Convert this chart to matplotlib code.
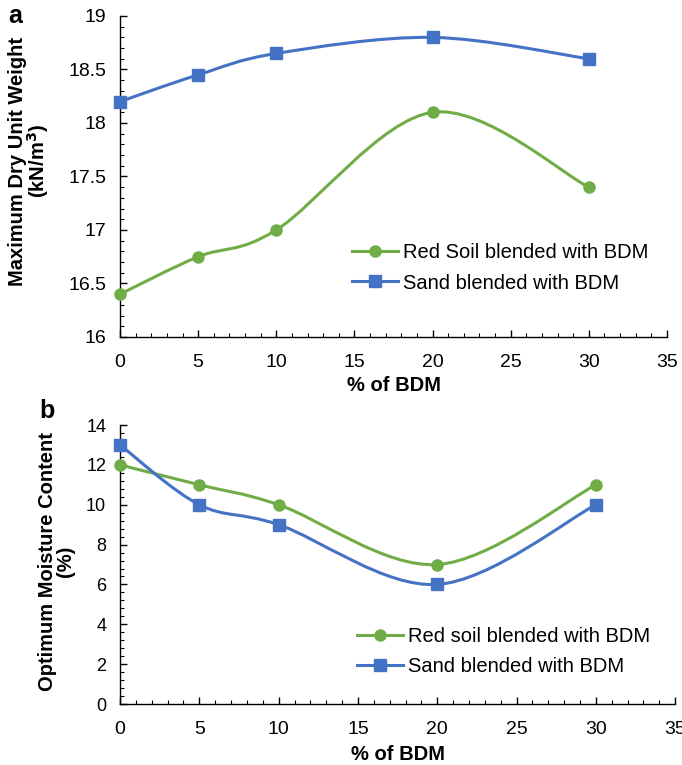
import numpy as np
import matplotlib.pyplot as plt
from matplotlib.path import Path
from matplotlib.patches import PathPatch
from matplotlib.ticker import MultipleLocator

plt.rcParams['font.family'] = ['Liberation Sans', 'DejaVu Sans']

# data
bdm = [0, 5, 10, 20, 30]
mdd_red = [16.4, 16.75, 17.0, 18.1, 17.4]
mdd_sand = [18.2, 18.45, 18.65, 18.8, 18.6]
omc_red = [12, 11, 10, 7, 11]
omc_sand = [13, 10, 9, 6, 10]

GREEN = '#70AD47'
BLUE = '#4472C4'


def smooth_path(x, y):
    # Excel-like smoothed line: cubic bezier through points (catmull-rom)
    p = np.column_stack([x, y]).astype(float)
    pts = np.vstack([p[0], p, p[-1]])
    verts = [p[0]]
    codes = [Path.MOVETO]
    for i in range(1, len(pts) - 2):
        p0, p1, p2, p3 = pts[i - 1], pts[i], pts[i + 1], pts[i + 2]
        verts += [p1 + (p2 - p0) / 6, p2 - (p3 - p1) / 6, p2]
        codes += [Path.CURVE4] * 3
    return Path(verts, codes)


def draw_series(ax, x, y, color, marker, ms, label):
    ax.add_patch(PathPatch(smooth_path(x, y), facecolor='none',
                           edgecolor=color, lw=2.2, zorder=2))
    ax.plot(x, y, ls='none', marker=marker, ms=ms, color=color, zorder=3,
            clip_on=False)
    ax.plot([], [], color=color, lw=2.2, marker=marker, ms=ms, label=label)


def style_axes(ax, ylabsize):
    for s in ['top', 'right']:
        ax.spines[s].set_visible(False)
    for s in ['left', 'bottom']:
        ax.spines[s].set_color('black')
        ax.spines[s].set_linewidth(1.0)
    ax.tick_params(which='major', direction='in', length=5, width=1)
    ax.tick_params(which='minor', direction='in', length=3, width=0.8)
    ax.tick_params(axis='x', labelsize=14, pad=12)
    ax.tick_params(axis='y', labelsize=ylabsize, pad=10)
    ax.xaxis.set_major_locator(MultipleLocator(5))
    ax.xaxis.set_minor_locator(MultipleLocator(1))
    ax.set_xlim(0, 35)


def add_legend(ax, x, y):
    ax.legend(loc='center left', bbox_to_anchor=(x, y),
              bbox_transform=ax.figure.transFigure, frameon=False,
              fontsize=14.5, handlelength=2.3, handletextpad=0.25,
              labelspacing=0.55, borderaxespad=0, borderpad=0)


fig = plt.figure(figsize=(6.82, 7.65), dpi=100)

ax1 = fig.add_axes([0.176, 0.5595, 0.802, 0.4196])
draw_series(ax1, bdm, mdd_red, GREEN, 'o', 8, 'Red Soil blended with BDM')
draw_series(ax1, bdm, mdd_sand, BLUE, 's', 8, 'Sand blended with BDM')
style_axes(ax1, 14)
ax1.set_ylim(16, 19)
ax1.yaxis.set_major_locator(MultipleLocator(0.5))
ax1.yaxis.set_minor_locator(MultipleLocator(0.1))
ax1.yaxis.set_major_formatter(plt.FuncFormatter(lambda v, _: f'{v:g}'))
ax1.set_xlabel('% of BDM', fontsize=14.5, fontweight='bold', labelpad=4)
ax1.set_ylabel('Maximum Dry Unit Weight\n(kN/m$\\mathbf{^3}$)', fontsize=14.5,
               fontweight='bold', linespacing=0.9)
ax1.yaxis.set_label_coords(-0.126, 0.548)
add_legend(ax1, 0.516, 0.6497)

ax2 = fig.add_axes([0.176, 0.0797, 0.814, 0.3647])
draw_series(ax2, bdm, omc_red, GREEN, 'o', 8, 'Red soil blended with BDM')
draw_series(ax2, bdm, omc_sand, BLUE, 's', 8, 'Sand blended with BDM')
style_axes(ax2, 13)
ax2.set_ylim(0, 14)
ax2.yaxis.set_major_locator(MultipleLocator(2))
ax2.yaxis.set_minor_locator(MultipleLocator(0.4))
ax2.set_xlabel('% of BDM', fontsize=14.5, fontweight='bold', labelpad=5)
ax2.set_ylabel('Optimum Moisture Content\n(%)', fontsize=14.5,
               fontweight='bold', linespacing=0.95)
ax2.yaxis.set_label_coords(-0.081, 0.51)
add_legend(ax2, 0.5235, 0.1484)

fig.text(0.012, 0.979, 'a', fontsize=18, fontweight='bold', va='center')
fig.text(0.057, 0.463, 'b', fontsize=18, fontweight='bold', va='center')

fig.savefig('out.png', dpi=100)
